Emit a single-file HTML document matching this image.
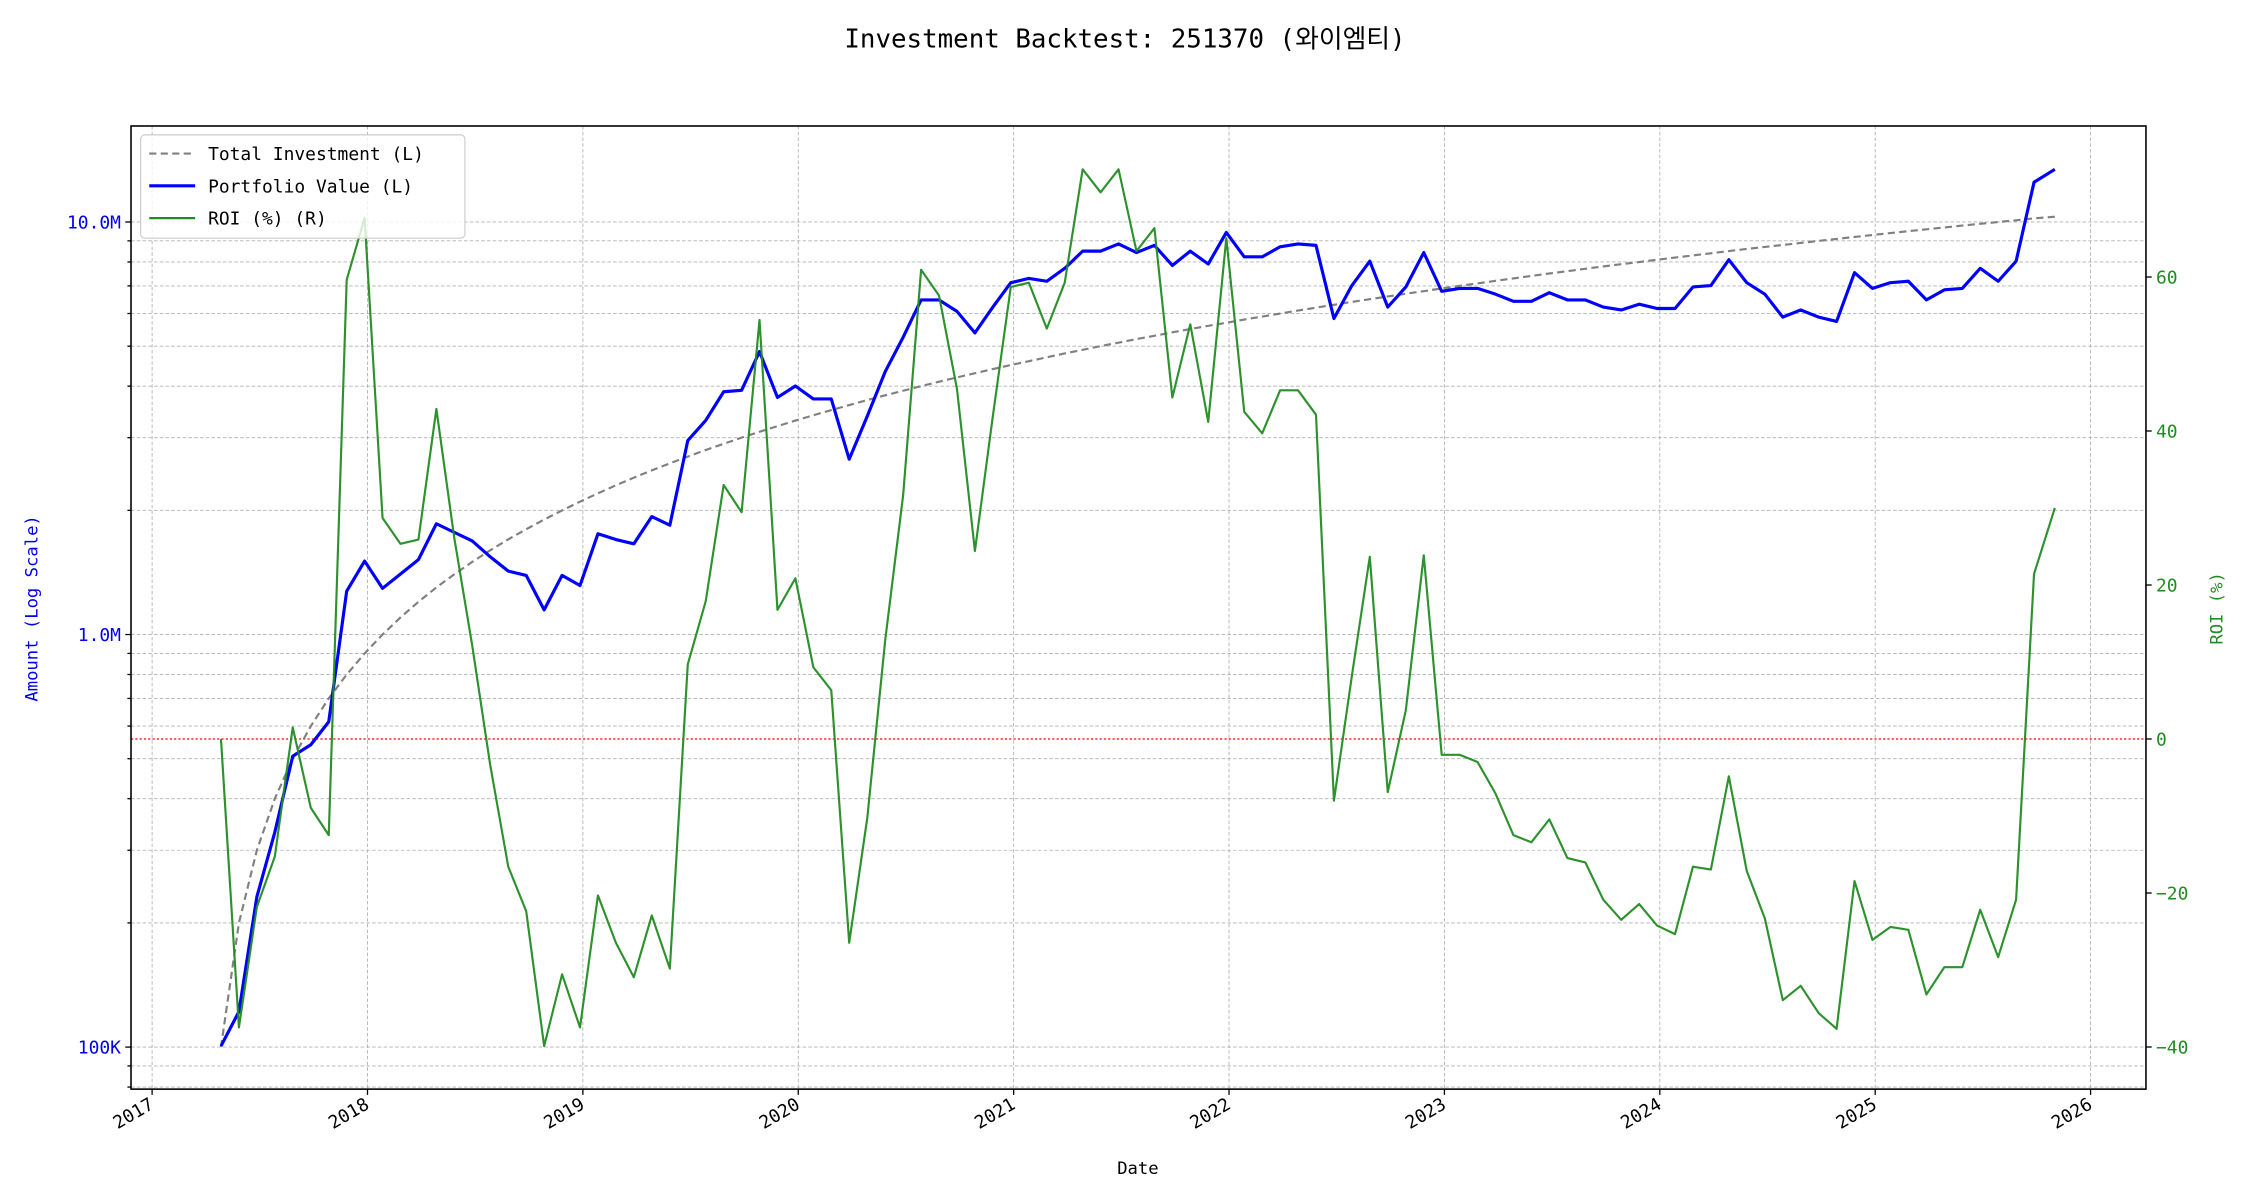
<!DOCTYPE html>
<html><head><meta charset="utf-8"><style>
html,body{margin:0;padding:0;background:#fff;width:2250px;height:1200px;overflow:hidden}
svg{display:block}
text{font-family:"DejaVu Sans Mono","Liberation Mono","Noto Sans CJK KR",monospace}
</style></head><body>
<svg id="s" width="2250" height="1200" viewBox="0 0 1568 836.27" xmlns="http://www.w3.org/2000/svg">
<rect width="1568" height="836.27" fill="#fff"/>
<g id="grid"></g>
<g id="series"></g>
<rect x="91.3" y="87.8" width="1404.2" height="671.2" fill="none" stroke="#000" stroke-width="1.1"/>
<g id="ticks"></g>
<text x="784" y="33" font-size="18" text-anchor="middle" fill="#000">Investment Backtest: 251370 (와이엠티)</text>
<text x="793" y="818" font-size="12" text-anchor="middle" fill="#000">Date</text>
<text transform="translate(26,424) rotate(-90)" font-size="12" text-anchor="middle" fill="#0000ee">Amount (Log Scale)</text>
<text transform="translate(1549,424) rotate(-90)" font-size="12" text-anchor="middle" fill="#228b22">ROI (%)</text>
<g>
<rect x="98" y="94" width="226" height="72" rx="3" fill="#fff" fill-opacity="0.8" stroke="#ccc" stroke-width="0.8"/>
<line x1="104" y1="107" x2="136" y2="107" stroke="#808080" stroke-width="1.5" stroke-dasharray="5,3"/>
<text x="145" y="111.5" font-size="12.5" fill="#000">Total Investment (L)</text>
<line x1="104" y1="129.5" x2="136" y2="129.5" stroke="#0000ff" stroke-width="2.2"/>
<text x="145" y="134" font-size="12.5" fill="#000">Portfolio Value (L)</text>
<line x1="104" y1="152" x2="136" y2="152" stroke="#228b22" stroke-width="1.6"/>
<text x="145" y="156.5" font-size="12.5" fill="#000">ROI (%) (R)</text>
</g>
</svg>
<script>
var NS="http://www.w3.org/2000/svg";
function el(p,t,a,txt){var e=document.createElementNS(NS,t);for(var k in a)e.setAttribute(k,a[k]);if(txt!==undefined)e.textContent=txt;document.getElementById(p).appendChild(e);return e;}
var L=91.3,R=1495.5,T=87.8,B=759;
function ly(v){return 729.7-287.5*Math.log10(v/1e5);}
function ry(r){return 515-r*5.366;}
var mins=[8e4,9e4];for(var d=1e5;d<=1e6;d*=10)for(var m=2;m<=9;m++)mins.push(d*m);
var majors=[1e5,1e6,1e7];
majors.concat(mins).forEach(function(v){var y=ly(v);if(y<T||y>B)return;
 el("grid","line",{x1:L,x2:R,y1:y,y2:y,stroke:"#b0b0b0","stroke-width":0.6,"stroke-dasharray":"2.5,1.5"});
 el("ticks","line",{x1:L-(majors.indexOf(v)>=0?4:2.5),x2:L,y1:y,y2:y,stroke:"#000","stroke-width":0.9});});
[["100K",1e5],["1.0M",1e6],["10.0M",1e7]].forEach(function(a){el("ticks","text",{x:L-7,y:ly(a[1])+4.5,"font-size":12.5,"text-anchor":"end",fill:"#0000ee"},a[0]);});
for(var yr=2017;yr<=2026;yr++){var x=106+(yr-2017)*150.1;
 el("grid","line",{x1:x,x2:x,y1:T,y2:B,stroke:"#b0b0b0","stroke-width":0.6,"stroke-dasharray":"2.5,1.5"});
 el("ticks","line",{x1:x,x2:x,y1:B,y2:B+4,stroke:"#000","stroke-width":0.9});
 el("ticks","text",{transform:"translate("+(x+2)+","+(B+13)+") rotate(-30)","font-size":12.5,"text-anchor":"end",fill:"#000"},String(yr));}
[-40,-20,0,20,40,60].forEach(function(r){var y=ry(r);
 el("ticks","line",{x1:R,x2:R+4,y1:y,y2:y,stroke:"#000","stroke-width":0.9});
 el("ticks","text",{x:R+7,y:y+4.5,"font-size":12.5,fill:"#228b22"},r<0?"\u2212"+(-r):String(r));});
el("series","line",{x1:L,x2:R,y1:515,y2:515,stroke:"#ff0000","stroke-width":0.9,"stroke-dasharray":"1.5,1.5"});
var blue=[729,705,625,580,527,519,503,412,391,410,400,390,365,371,377,388,398,401,425,401,408,372,376,379,360,366,307,293,273,272,245,277,269,278,278,320,290,259,235,209,209,217,232,214,197,194,196,187,175,175,170,176,171,185,175,184,162,179,179,172,170,171,222,199,182,214,200,176,203,201,201,205,210,210,204,209,209,214,216,212,215,215,200,199,181,197,205,221,216,221,224,190,201,197,196,209,202,201,187,196,182,127,118];
var green=[515,716,632,597,507,563,582,195,152,361,379,376,285,375,450,533,604,635,729,679,716,624,657,681,638,675,463,419,338,357,223,425,403,465,481,657,570,446,345,188,206,271,384,290,200,197,229,197,118,134,118,175,159,277,226,294,166,287,302,272,272,289,558,471,388,552,495,387,526,526,531,553,582,587,571,598,601,627,641,630,645,651,604,606,541,607,640,697,687,706,717,614,655,646,648,693,674,674,634,667,627,400,354];
function X(i){return i==102?1432:154+12.51*i;}
var pg="",pb="",pr="";
for(var i=0;i<103;i++){var x=X(i).toFixed(1);
 pg+=(i?"L":"M")+x+","+ly(1e5*(i+1)).toFixed(1);
 pb+=(i?"L":"M")+x+","+blue[i];
 pr+=(i?"L":"M")+x+","+green[i];}
el("series","path",{d:pg,fill:"none",stroke:"#808080","stroke-width":1.5,"stroke-dasharray":"5,3"});
el("series","path",{d:pb,fill:"none",stroke:"#0000ff","stroke-width":2.2,"stroke-linejoin":"round"});
el("series","path",{d:pr,fill:"none",stroke:"#228b22","stroke-width":1.5,"stroke-opacity":0.95,"stroke-linejoin":"round"});
</script>
</body></html>
